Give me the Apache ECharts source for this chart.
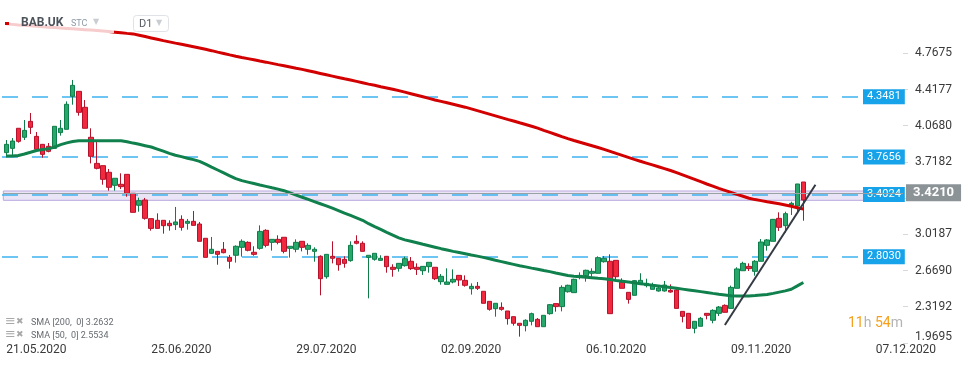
<!DOCTYPE html>
<html><head><meta charset="utf-8">
<script src="https://cdn.jsdelivr.net/npm/echarts@6/dist/echarts.min.js"></script>
<style>html,body{margin:0;padding:0;background:#fff}#c{width:974px;height:368px}</style>
</head><body><div id="c"></div>
<script>
// ---- data ----
const opens = [
3.808,3.849,4.043,3.956,4.110,3.965,3.888,3.869,3.849,4.001,
4.033,4.352,4.400,4.246,3.956,3.704,3.682,3.618,3.492,3.502,
3.598,3.415,3.299,3.350,3.170,3.154,3.154,3.125,3.112,3.163,
3.125,3.144,3.118,2.980,2.835,2.854,2.874,2.796,2.816,2.893,
2.941,2.845,2.883,3.057,2.941,2.970,2.990,2.883,2.874,2.951,
2.874,2.854,2.806,2.609,2.806,2.787,2.777,2.764,2.951,2.932,
2.796,2.777,2.767,2.806,2.700,2.690,2.716,2.758,2.700,2.667,
2.706,2.700,2.561,2.535,2.558,2.622,2.574,2.493,2.516,2.468,
2.371,2.300,2.313,2.278,2.223,2.159,2.136,2.178,2.197,2.126,
2.252,2.349,2.320,2.464,2.455,2.603,2.619,2.642,2.642,2.754,
2.758,2.767,2.555,2.458,2.429,2.545,2.523,2.487,2.471,2.471,
2.477,2.481,2.274,2.255,2.110,2.130,2.255,2.188,2.255,2.332,
2.303,2.497,2.667,2.709,2.661,2.758,2.912,2.951,3.173,3.102,
3.302,3.292,3.524];
const closes = [
3.888,3.920,3.917,4.023,4.052,3.840,3.791,3.820,4.062,4.043,
4.275,4.458,4.197,4.043,3.772,3.656,3.550,3.473,3.560,3.479,
3.415,3.231,3.344,3.173,3.076,3.076,3.102,3.102,3.138,3.086,
3.144,3.105,2.951,2.796,2.874,2.825,2.841,2.758,2.903,2.951,
2.864,2.825,3.047,2.912,2.970,2.941,2.854,2.903,2.941,2.893,
2.912,2.874,2.590,2.825,2.787,2.725,2.738,2.912,2.932,2.854,
2.816,2.835,2.787,2.706,2.680,2.738,2.783,2.687,2.680,2.709,
2.748,2.590,2.613,2.558,2.584,2.577,2.526,2.516,2.497,2.352,
2.294,2.352,2.294,2.204,2.159,2.139,2.188,2.252,2.126,2.236,
2.339,2.320,2.506,2.526,2.584,2.622,2.671,2.661,2.793,2.787,
2.252,2.609,2.497,2.390,2.571,2.574,2.545,2.529,2.500,2.529,
2.461,2.303,2.226,2.110,2.178,2.207,2.236,2.284,2.316,2.265,
2.506,2.684,2.738,2.687,2.758,2.944,2.964,3.163,3.086,3.218,
3.318,3.505,3.350];
const lows = [
3.762,3.769,3.904,3.930,3.988,3.833,3.759,3.811,3.846,3.972,
4.033,4.271,4.165,4.043,3.704,3.646,3.498,3.440,3.440,3.456,
3.382,3.231,3.237,3.160,3.054,3.076,3.025,3.054,3.060,3.054,
3.064,3.105,2.951,2.796,2.828,2.725,2.835,2.687,2.745,2.803,
2.854,2.812,2.870,2.893,2.861,2.922,2.835,2.793,2.845,2.854,
2.822,2.754,2.429,2.590,2.738,2.667,2.696,2.754,2.922,2.854,
2.400,2.764,2.764,2.648,2.609,2.658,2.706,2.674,2.626,2.626,
2.648,2.577,2.532,2.535,2.545,2.519,2.513,2.436,2.481,2.352,
2.281,2.223,2.281,2.146,2.136,2.030,2.081,2.139,2.126,2.126,
2.242,2.271,2.274,2.455,2.455,2.584,2.561,2.609,2.642,2.745,
2.252,2.577,2.497,2.349,2.429,2.529,2.506,2.487,2.465,2.465,
2.455,2.303,2.168,2.107,2.062,2.130,2.197,2.159,2.229,2.265,
2.303,2.497,2.667,2.664,2.619,2.758,2.861,2.951,3.051,3.035,
3.205,3.221,3.150];
const highs = [
3.930,3.949,4.043,4.123,4.191,4.007,3.888,3.901,4.062,4.123,
4.303,4.510,4.400,4.316,4.043,3.914,3.682,3.650,3.560,3.608,
3.598,3.415,3.373,3.370,3.170,3.221,3.154,3.154,3.283,3.202,
3.167,3.244,3.138,2.980,2.993,2.854,2.944,2.819,2.912,2.970,
2.951,2.903,3.105,3.067,2.970,3.009,2.990,2.903,2.970,2.951,
2.932,2.893,2.816,2.825,2.951,2.787,2.806,2.951,3.009,2.951,
2.816,2.835,2.816,2.806,2.729,2.738,2.803,2.799,2.738,2.709,
2.748,2.700,2.635,2.690,2.680,2.622,2.622,2.545,2.558,2.468,
2.371,2.352,2.361,2.278,2.223,2.159,2.197,2.262,2.210,2.236,
2.345,2.349,2.526,2.532,2.590,2.651,2.677,2.690,2.806,2.809,
2.825,2.767,2.593,2.458,2.577,2.642,2.590,2.551,2.513,2.568,
2.535,2.497,2.274,2.255,2.178,2.220,2.255,2.294,2.326,2.342,
2.523,2.700,2.754,2.738,2.770,2.973,2.973,3.167,3.231,3.237,
3.334,3.505,3.524];
const sma200 = [
5.051,5.047,5.042,5.038,5.033,5.029,5.025,5.020,5.016,5.012,
5.008,5.004,5.000,4.996,4.992,4.988,4.984,4.978,4.972,4.966,
4.960,4.955,4.942,4.929,4.916,4.903,4.890,4.878,4.866,4.855,
4.843,4.831,4.819,4.806,4.793,4.779,4.766,4.752,4.739,4.727,
4.716,4.705,4.693,4.682,4.670,4.658,4.647,4.635,4.623,4.612,
4.599,4.586,4.573,4.560,4.547,4.534,4.521,4.509,4.496,4.483,
4.470,4.458,4.445,4.433,4.420,4.407,4.392,4.377,4.362,4.347,
4.332,4.317,4.303,4.289,4.275,4.261,4.247,4.231,4.214,4.197,
4.180,4.163,4.146,4.129,4.113,4.096,4.080,4.063,4.044,4.023,
4.003,3.983,3.962,3.943,3.925,3.908,3.891,3.874,3.857,3.839,
3.820,3.800,3.781,3.762,3.743,3.725,3.707,3.689,3.671,3.653,
3.635,3.615,3.593,3.571,3.549,3.527,3.505,3.484,3.462,3.443,
3.424,3.405,3.386,3.367,3.354,3.344,3.333,3.323,3.313,3.302,
3.289,3.276,3.263];
const sma50 = [
3.775,3.775,3.780,3.795,3.811,3.828,3.838,3.846,3.862,3.885,
3.902,3.915,3.923,3.923,3.923,3.923,3.923,3.923,3.923,3.923,
3.913,3.900,3.888,3.875,3.862,3.842,3.822,3.801,3.783,3.769,
3.754,3.740,3.723,3.697,3.668,3.640,3.612,3.584,3.556,3.537,
3.523,3.509,3.495,3.482,3.468,3.455,3.440,3.419,3.398,3.377,
3.356,3.335,3.314,3.293,3.271,3.248,3.224,3.201,3.178,3.154,
3.121,3.093,3.066,3.038,3.011,2.984,2.965,2.951,2.937,2.922,
2.908,2.894,2.880,2.867,2.854,2.843,2.831,2.819,2.808,2.796,
2.782,2.768,2.755,2.741,2.728,2.715,2.704,2.692,2.681,2.669,
2.658,2.645,2.633,2.620,2.614,2.609,2.604,2.599,2.593,2.589,
2.581,2.573,2.566,2.558,2.550,2.542,2.535,2.527,2.520,2.512,
2.505,2.497,2.489,2.481,2.473,2.465,2.457,2.448,2.440,2.433,
2.426,2.422,2.422,2.423,2.427,2.432,2.437,2.448,2.460,2.472,
2.488,2.520,2.553];
const levelValues = [4.3481, 3.7656, 3.4024, 2.8030];
const levelLabels = ['4.3481', '3.7656', '3.4024', '2.8030'];
const currentPrice = 3.4210;
const currentLabel = '3.4210';
const bandLimits = [3.437, 3.347];
const trendIdx = [119, 134];
const trendVal = [2.143, 3.498];
const yTickLabels = ['1.9695','2.3192','2.6690','3.0187','3.3685','3.7182','4.0680','4.4177','4.7675'];
const xTickIndex = [0, 24, 48, 72, 96, 120, 144];
const xTickLabels = ['21.05.2020','25.06.2020','29.07.2020','02.09.2020','06.10.2020','09.11.2020','07.12.2020'];
const slotCount = 149;
const holidays = ['25.05.2020', '31.08.2020'];

// ---- categories: trading days from the first candle ----
const categories = [];
(function () {
  const d = new Date(2020, 4, 21);
  const pad = n => (n < 10 ? '0' : '') + n;
  while (categories.length < slotCount) {
    const s = pad(d.getDate()) + '.' + pad(d.getMonth() + 1) + '.' + d.getFullYear();
    const wd = d.getDay();
    if (wd !== 0 && wd !== 6 && holidays.indexOf(s) < 0) categories.push(s);
    d.setDate(d.getDate() + 1);
  }
})();

const ohlc = opens.map((o, i) => [o, closes[i], lows[i], highs[i]]);
const yTickValues = yTickLabels.map(parseFloat);
const FONT = 'Roboto, "Noto Sans", sans-serif';

const chart = echarts.init(document.getElementById('c'), null, {renderer: 'canvas'});
chart.setOption({
  animation: false,
  backgroundColor: '#ffffff',
  grid: {left: 3.3, right: 71, top: 0, bottom: 25.1},
  xAxis: {
    type: 'category', data: categories, boundaryGap: true,
    axisLine: {show: false}, axisTick: {show: false}, splitLine: {show: false},
    axisLabel: {
      interval: (idx) => xTickIndex.indexOf(idx) >= 0,
      formatter: (v, idx) => { const k = xTickIndex.indexOf(idx); return k >= 0 ? xTickLabels[k] : ''; },
      align: 'left', margin: 1, color: '#3a3a3a', fontSize: 12, fontFamily: FONT
    }
  },
  yAxis: {
    type: 'value', position: 'right', min: 1.9695, max: 5.2825, interval: 0.34975,
    axisLine: {show: false}, splitLine: {show: false},
    axisTick: {show: true, length: 5, lineStyle: {color: '#d8d8d8'}, customValues: yTickValues},
    axisLabel: {
      margin: 12, color: '#3a3a3a', fontSize: 12, fontFamily: FONT, verticalAlignMinLabel: 'bottom',
      customValues: yTickValues,
      formatter: (v) => { for (const t of yTickLabels) { if (Math.abs(parseFloat(t) - v) < 0.0005) return t; } return ''; }
    }
  },
  series: [
    {
      name: 'BAB.UK', type: 'candlestick', data: ohlc, barWidth: 5, z: 2,
      itemStyle: {color: '#25a86a', borderColor: '#0f7d4a', color0: '#f2283e', borderColor0: '#b5122c', borderWidth: 1},
      markLine: {
        silent: true, symbol: ['none', 'none'], z: 1,
        lineStyle: {color: '#3db2ef', width: 1.5, type: [16, 14]},
        label: {
          show: true, position: 'end', distance: 5, formatter: '{b}',
          backgroundColor: '#16a3e9', color: '#ffffff', fontSize: 11, fontFamily: FONT, padding: [2, 4, 2, 4]
        },
        data: levelValues.map((v, i) => [{x: 2, yAxis: v, name: levelLabels[i]}, {x: 858, yAxis: v, name: levelLabels[i]}])
      }
    },
    {
      name: 'SMA200', type: 'line', data: sma200, showSymbol: false, symbol: 'none', z: 3,
      lineStyle: {color: '#d20000', width: 3}
    },
    {
      name: 'SMA50', type: 'line', data: sma50, showSymbol: false, symbol: 'none', z: 3,
      lineStyle: {color: '#10804d', width: 3}
    },
    {
      name: 'band', type: 'line', data: [], z: 4,
      markArea: {
        silent: true,
        itemStyle: {color: 'rgba(204,190,236,0.42)', borderColor: '#b9a8de', borderWidth: 1},
        data: [[{yAxis: bandLimits[0]}, {yAxis: bandLimits[1]}]]
      }
    },
    {
      name: 'price', type: 'line', data: [], z: 5,
      markLine: {
        silent: true, symbol: ['none', 'none'],
        lineStyle: {color: '#9aa1a5', width: 1, type: 'solid'},
        label: {
          show: true, position: 'end', distance: 3, formatter: '{b}',
          backgroundColor: '#8b9397', color: '#ffffff', fontSize: 13, fontWeight: 'bold', fontFamily: FONT, padding: [2, 7, 2, 7]
        },
        data: [{yAxis: currentPrice, name: currentLabel}]
      }
    },
    {
      name: 'trend', type: 'line', data: [], z: 6,
      markLine: {
        silent: true, symbol: ['none', 'none'],
        lineStyle: {color: '#343a43', width: 2, type: 'solid'},
        label: {show: false},
        data: [[{coord: [categories[trendIdx[0]], trendVal[0]]}, {coord: [categories[trendIdx[1]], trendVal[1]]}]]
      }
    }
  ],
  graphic: [
    {type: 'rect', z: 50, shape: {x: 0, y: 14, width: 114, height: 19}, style: {fill: 'rgba(255,255,255,0.8)'}},
    {type: 'rect', z: 51, shape: {x: 5, y: 22, width: 4, height: 3}, style: {fill: '#d40000'}},
    {type: 'text', z: 51, x: 21, y: 23, style: {text: 'BAB.UK', font: 'bold 12px ' + FONT, fill: '#4b525a', verticalAlign: 'middle'}},
    {type: 'text', z: 51, x: 71, y: 24, style: {text: 'STC', font: '9px ' + FONT, fill: '#8b9aa8', verticalAlign: 'middle'}},
    {type: 'text', z: 51, x: 93, y: 22, style: {text: '▼', font: '8px "DejaVu Sans"', fill: '#c9cdd2', verticalAlign: 'middle'}},
    {type: 'rect', z: 51, shape: {x: 133.5, y: 15.5, width: 35, height: 16, r: 3}, style: {fill: '#fff', stroke: '#dfe2e6', lineWidth: 1}},
    {type: 'text', z: 52, x: 139, y: 24, style: {text: 'D1', font: '11px ' + FONT, fill: '#555b61', verticalAlign: 'middle'}},
    {type: 'text', z: 52, x: 156, y: 23, style: {text: '▼', font: '8px "DejaVu Sans"', fill: '#c9cdd2', verticalAlign: 'middle'}},
    {type: 'text', z: 51, x: 5, y: 322, style: {text: '≡', font: '13px "DejaVu Sans"', fill: '#a8a8a8', verticalAlign: 'middle'}},
    {type: 'text', z: 51, x: 16, y: 322, style: {text: '✖', font: '9px "DejaVu Sans"', fill: '#a8a8a8', verticalAlign: 'middle'}},
    {type: 'text', z: 51, x: 31, y: 323, style: {text: 'SMA [200,  0] 3.2632', font: '9px ' + FONT, fill: '#666b70', verticalAlign: 'middle'}},
    {type: 'text', z: 51, x: 5, y: 335, style: {text: '≡', font: '13px "DejaVu Sans"', fill: '#a8a8a8', verticalAlign: 'middle'}},
    {type: 'text', z: 51, x: 16, y: 335, style: {text: '✖', font: '9px "DejaVu Sans"', fill: '#a8a8a8', verticalAlign: 'middle'}},
    {type: 'text', z: 51, x: 31, y: 336, style: {text: 'SMA [50,  0] 2.5534', font: '9px ' + FONT, fill: '#666b70', verticalAlign: 'middle'}},
    {type: 'text', z: 51, x: 848, y: 323, style: {
      text: '{o|11}{g|h }{o|54}{g|m}', verticalAlign: 'middle',
      rich: {o: {fill: '#f5a11c', font: '14px ' + FONT}, g: {fill: '#b4b4b4', font: '14px ' + FONT}}
    }}
  ]
});
</script></body></html>
